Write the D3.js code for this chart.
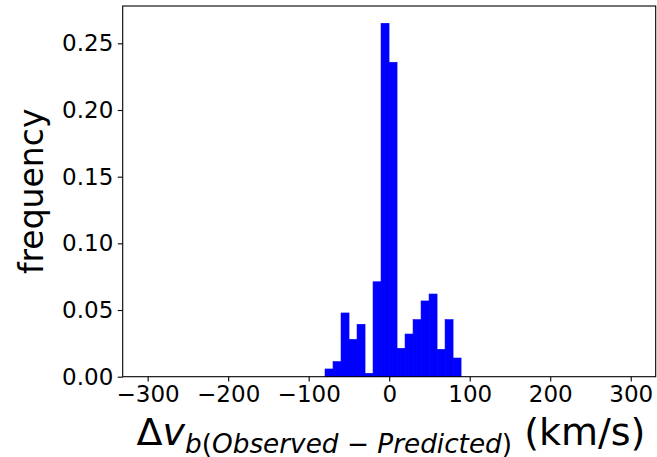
<!DOCTYPE html>
<html>
<head>
<meta charset="utf-8">
<script src="https://cdn.jsdelivr.net/npm/d3@7"></script>
<style>
  html, body { margin: 0; padding: 0; background: #fff; }
  svg { display: block; }
  text { font-family: "DejaVu Sans", sans-serif; fill: #000; }
</style>
</head>
<body>
<div id="chart"></div>
<script>
// Histogram bin left edges (km/s), bin width and frequencies
const binWidth = 9.94;
const binLefts = [-79.7, -69.76, -59.82, -49.88, -39.94, -30.0, -20.06, -10.12, -0.18, 9.76, 19.7, 29.64, 39.58, 49.52, 59.46, 69.4, 79.34];
const frequencies = [0.0058, 0.0113, 0.0478, 0.0280, 0.0393, 0.0025, 0.0712, 0.2650, 0.2358, 0.0213, 0.0320, 0.0428, 0.0568, 0.0620, 0.0205, 0.0428, 0.0140];
const xTicks = [-300, -200, -100, 0, 100, 200, 300];
const yTicks = [0.00, 0.05, 0.10, 0.15, 0.20, 0.25];
const xDomain = [-331, 331];
const yDomain = [0, 0.278];

const W = 657, H = 457;
const margin = { left: 122.7, right: 1.3, top: 6, bottom: 80.3 };

const svg = d3.select("#chart").append("svg").attr("width", W).attr("height", H);

const x = d3.scaleLinear().domain(xDomain).range([margin.left, W - margin.right]);
const y = d3.scaleLinear().domain(yDomain).range([H - margin.bottom, margin.top]);

const bins = binLefts.map((l, i) => ({ x0: l, x1: l + binWidth, f: frequencies[i] }));

svg.append("g").selectAll("rect").data(bins).enter().append("rect")
  .attr("x", d => x(d.x0))
  .attr("width", d => x(d.x1) - x(d.x0))
  .attr("y", d => y(d.f))
  .attr("height", d => y(0) - y(d.f))
  .attr("fill", "#0000ff")
  .attr("stroke", "#0000ff")
  .attr("stroke-width", 0.6);

// frame
svg.append("rect")
  .attr("x", x.range()[0]).attr("y", y.range()[1])
  .attr("width", x.range()[1] - x.range()[0])
  .attr("height", y.range()[0] - y.range()[1])
  .attr("fill", "none").attr("stroke", "#000").attr("stroke-width", 1.1);

const fmtX = d => (d < 0 ? "\u2212" + Math.abs(d) : String(d));
const xAxis = svg.append("g").attr("transform", `translate(0,${y.range()[0]})`)
  .call(d3.axisBottom(x).tickValues(xTicks).tickFormat(fmtX).tickSizeOuter(0).tickSize(4.9).tickPadding(4.2));
xAxis.select(".domain").remove();
xAxis.selectAll("line").attr("stroke", "#000").attr("stroke-width", 1.1);
xAxis.selectAll("text").attr("font-size", 23).attr("font-family", "DejaVu Sans").attr("fill", "#000");

const yAxis = svg.append("g").attr("transform", `translate(${x.range()[0]},0)`)
  .call(d3.axisLeft(y).tickValues(yTicks).tickFormat(d3.format(".2f")).tickSizeOuter(0).tickSize(4.9).tickPadding(4.5));
yAxis.select(".domain").remove();
yAxis.selectAll("line").attr("stroke", "#000").attr("stroke-width", 1.1);
yAxis.selectAll("text").attr("font-size", 23).attr("font-family", "DejaVu Sans").attr("fill", "#000");

// y label
svg.append("text")
  .attr("transform", `translate(43,${(y.range()[0] + y.range()[1]) / 2}) rotate(-90)`)
  .attr("text-anchor", "middle")
  .attr("font-size", 33)
  .text("frequency");

// x label (math text)
const xl = svg.append("text")
  .attr("x", 391)
  .attr("y", 445)
  .attr("text-anchor", "middle")
  .attr("font-size", 38);
xl.append("tspan").text("\u0394");
xl.append("tspan").attr("font-style", "italic").text("v");
const sub = xl.append("tspan").attr("font-size", 26.3).attr("dy", 8);
sub.append("tspan").attr("font-style", "italic").text("b");
sub.append("tspan").text("(");
sub.append("tspan").attr("font-style", "italic").text("Observed");
sub.append("tspan").text(" \u2212 ");
sub.append("tspan").attr("font-style", "italic").text("Predicted");
sub.append("tspan").text(")");
xl.append("tspan").attr("dy", -8).text(" (km/s)");
</script>
</body>
</html>
